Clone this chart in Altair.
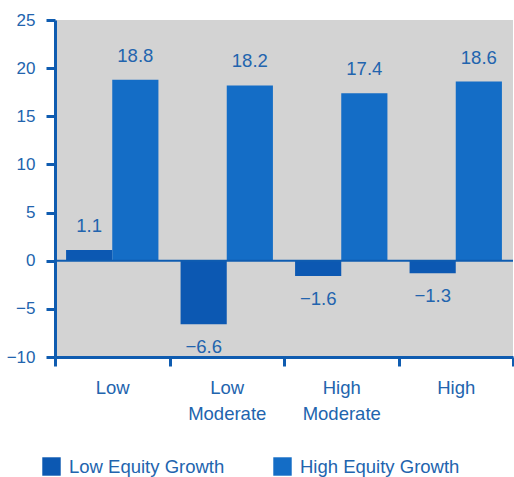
import altair as alt
import pandas as pd

# Categories and the two series
groups = ["Low", "Low Moderate", "High Moderate", "High"]
series = ["Low Equity Growth", "High Equity Growth"]
low_equity = [1.1, -6.6, -1.6, -1.3]
high_equity = [18.8, 18.2, 17.4, 18.6]

rows = []
for g, lo, hi in zip(groups, low_equity, high_equity):
    rows.append({"group": g, "series": series[0], "value": lo})
    rows.append({"group": g, "series": series[1], "value": hi})
df = pd.DataFrame(rows)

BLUE_TEXT = "#2264ae"
AXIS_BLUE = "#0f5cb0"
FONT = "Liberation Sans"

x_enc = alt.X(
    "group:N",
    sort=groups,
    scale=alt.Scale(paddingInner=0, paddingOuter=0),
    axis=alt.Axis(
        title=None,
        labelAngle=0,
        labelExpr="datum.value ? split(datum.value, ' ') : ''",
        labelFontSize=18.5,
        labelColor=BLUE_TEXT,
        labelFont=FONT,
        labelLineHeight=26,
        labelPadding=12,
        labelBaseline="top",
        tickBand="extent",
        tickSize=9,
        tickWidth=3,
        tickColor=AXIS_BLUE,
        domainColor=AXIS_BLUE,
        domainWidth=3,
    ),
)
xoff = alt.XOffset("series:N", sort=series, scale=alt.Scale(paddingOuter=0.24, paddingInner=0))
y_scale = alt.Scale(domain=[-10, 25], nice=False)

base = alt.Chart(df)

bars = base.mark_bar().encode(
    x=x_enc,
    xOffset=xoff,
    y=alt.Y(
        "value:Q",
        scale=y_scale,
        axis=alt.Axis(
            title=None,
            values=[-10, -5, 0, 5, 10, 15, 20, 25],
            grid=False,
            labelFontSize=17,
            labelColor=BLUE_TEXT,
            labelFont=FONT,
            labelPadding=11,
            tickSize=9,
            tickWidth=3,
            tickColor=AXIS_BLUE,
            domainColor=AXIS_BLUE,
            domainWidth=3,
        ),
    ),
    color=alt.Color(
        "series:N",
        sort=series,
        scale=alt.Scale(domain=series, range=["#0c58b2", "#146dc6"]),
        legend=alt.Legend(
            title=None,
            orient="none",
            direction="horizontal",
            legendX=-13,
            legendY=437,
            symbolType="square",
            symbolSize=340,
            symbolStrokeWidth=0,
            labelFontSize=18.5,
            labelFont=FONT,
            labelColor=BLUE_TEXT,
            labelOffset=8,
            columnPadding=48,
        ),
    ),
)

zero_line = alt.Chart().mark_rule(color=AXIS_BLUE, strokeWidth=2).encode(y=alt.datum(0, scale=y_scale))

text_style = dict(fontSize=18.5, font=FONT, color=BLUE_TEXT)
pos_labels = base.transform_filter("datum.value >= 0").mark_text(dy=-24, **text_style).encode(
    x=alt.X("group:N", sort=groups), xOffset=xoff, y="value:Q", text=alt.Text("value:Q", format=".1f")
)
neg_labels = base.transform_filter("datum.value < 0").mark_text(dy=23, **text_style).encode(
    x=alt.X("group:N", sort=groups), xOffset=xoff, y="value:Q", text=alt.Text("value:Q", format=".1f")
)

chart = (
    alt.layer(bars, zero_line, pos_labels, neg_labels)
    .properties(
        width=458,
        height=337,
        autosize=alt.AutoSizeParams(type="none"),
        padding={"left": 55, "top": 20, "right": 1, "bottom": 120},
    )
    .configure_view(fill="#d3d3d3", stroke=None)
)

chart.save("out.html", embed_options={"renderer": "svg", "actions": False})
